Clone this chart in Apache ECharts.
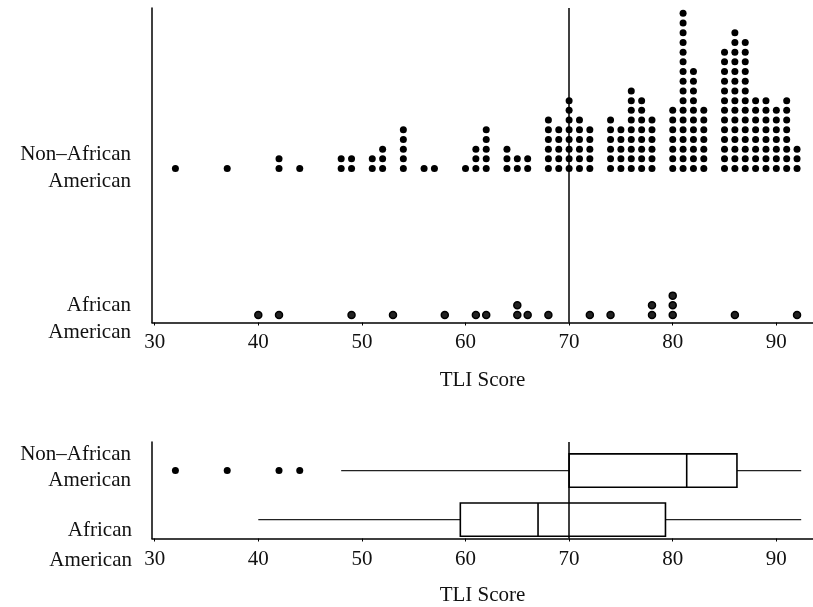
<!DOCTYPE html>
<html><head><meta charset="utf-8">
<script src="https://cdn.jsdelivr.net/npm/echarts@6/dist/echarts.min.js"></script>
<style>html,body{margin:0;background:#fff}#c{width:813px;height:607px}</style>
</head><body><div id="c"></div>
<script>
// ---- data ----
const groupLabels = ['Non–African\nAmerican', 'African\nAmerican'];
const axisTitle = 'TLI Score';
const xTicks = [30, 40, 50, 60, 70, 80, 90];
const cutoff = 70;
const nonAfricanScores = [32,37,42,44,48,49,51,52,54,56,57,60,61,62,64,65,66,68,69,70,71,72,74,75,76,77,78,80,81,82,83,85,86,87,88,89,90,91,92];
const nonAfricanCounts = [1,1,2,1,2,2,2,3,5,1,1,1,3,5,3,2,2,6,5,8,6,5,6,5,9,8,6,7,17,11,7,13,15,14,8,8,7,8,3];
const africanScores = [40,42,49,53,58,61,62,65,66,68,72,74,78,80,86,92];
const africanCounts = [1,1,1,1,1,1,1,2,1,1,1,1,2,3,1,1];
// five-number summaries: min, Q1, median, Q3, max
const boxNonAfrican = [48, 70, 81.35, 86.2, 92.4];
const boxAfrican = [40, 59.5, 67.0, 79.3, 92.4];
const outliersNonAfrican = [32, 37, 42, 44];

// ---- layout / style ----
const FONT = 'Liberation Serif';
const TXT = '#111';
const NA_BASE = 15.1, AA_BASE = 0;      // stacking baselines (dot units)
const BOX_NA = 2, BOX_AA = 1, BOX_H = 0.68;

function stack(scores, counts, base) {
  const pts = [];
  scores.forEach((s, i) => { for (let k = 0; k < counts[i]; k++) pts.push([s, base + k]); });
  return pts;
}
function xAxisCfg(gridIndex, gap, margin) {
  return {
    gridIndex, type: 'value', min: 29.74, max: 93.54,
    name: axisTitle, nameLocation: 'middle', nameGap: gap,
    nameTextStyle: { fontFamily: FONT, fontSize: 21, color: TXT },
    axisLine: { onZero: false, lineStyle: { color: '#000', width: 1.5 } },
    axisTick: { customValues: xTicks, length: 3, lineStyle: { color: '#000', width: 1 } },
    axisLabel: { customValues: xTicks, margin: margin, fontFamily: FONT, fontSize: 21, color: TXT },
    splitLine: { show: false }
  };
}
const vline = {
  silent: true, symbol: ['none', 'none'], label: { show: false },
  lineStyle: { color: '#000', width: 1.5, type: 'solid' },
  data: [{ xAxis: cutoff }], animation: false
};

const chart = echarts.init(document.getElementById('c'));
chart.setOption({
  animation: false,
  backgroundColor: '#fff',
  grid: [
    { left: 152, right: 0, top: 8, bottom: 284.5 },
    { left: 152, right: 0, top: 442, bottom: 68 }
  ],
  xAxis: [xAxisCfg(0, 47, 9), xAxisCfg(1, 46.5, 10)],
  yAxis: [
    {
      gridIndex: 0, type: 'value', min: -0.77, max: 31.65,
      axisLine: { show: true, onZero: false, lineStyle: { color: '#000', width: 1.5 } },
      axisTick: { show: false }, splitLine: { show: false },
      axisLabel: {
        customValues: [15.15, -0.36],
        formatter: v => (v > 5 ? groupLabels[0] : groupLabels[1]),
        fontFamily: FONT, fontSize: 21, lineHeight: 27, color: TXT, margin: 21, align: 'right'
      }
    },
    {
      gridIndex: 1, type: 'value', min: 0.615, max: 2.582,
      axisLine: { show: true, onZero: false, lineStyle: { color: '#000', width: 1.5 } },
      axisTick: { show: false }, splitLine: { show: false }, axisLabel: { show: false }
    }
  ],
  graphic: [
    { type: 'text', x: 131, y: 467.5, silent: true,
      style: { text: groupLabels[0], font: '21px "Liberation Serif"', fill: TXT, align: 'right', textAlign: 'right', verticalAlign: 'middle', textVerticalAlign: 'middle', lineHeight: 26 } },
    { type: 'text', x: 132, y: 545, silent: true,
      style: { text: groupLabels[1], font: '21px "Liberation Serif"', fill: TXT, align: 'right', textAlign: 'right', verticalAlign: 'middle', textVerticalAlign: 'middle', lineHeight: 30 } }
  ],
  series: [
    {
      type: 'scatter', xAxisIndex: 0, yAxisIndex: 0,
      data: stack(nonAfricanScores, nonAfricanCounts, NA_BASE),
      symbolSize: 7, itemStyle: { color: '#000', opacity: 1 },
      markLine: vline, silent: true
    },
    {
      type: 'scatter', xAxisIndex: 0, yAxisIndex: 0,
      data: stack(africanScores, africanCounts, AA_BASE),
      symbolSize: 7, itemStyle: { color: '#222', borderColor: '#000', borderWidth: 1.5, opacity: 1 },
      silent: true
    },
    {
      type: 'custom', xAxisIndex: 1, yAxisIndex: 1, silent: true,
      data: [[BOX_NA].concat(boxNonAfrican), [BOX_AA].concat(boxAfrican)],
      encode: { x: [1, 2, 3, 4, 5], y: 0 },
      renderItem(params, api) {
        const base = api.value(0);
        const v = [1, 2, 3, 4, 5].map(i => api.value(i));
        const c = val => api.coord([val, base]);
        const h = api.size([0, BOX_H])[1];
        const p = v.map(c);
        const y = p[0][1];
        const ws = { stroke: '#222', lineWidth: 1.3 };
        const bs = { stroke: '#000', lineWidth: 1.6 };
        return { type: 'group', children: [
          { type: 'line', shape: { x1: p[0][0], y1: y, x2: p[1][0], y2: y }, style: ws },
          { type: 'line', shape: { x1: p[3][0], y1: y, x2: p[4][0], y2: y }, style: ws },
          { type: 'rect', shape: { x: p[1][0], y: y - h / 2, width: p[3][0] - p[1][0], height: h }, style: Object.assign({ fill: '#fff' }, bs) },
          { type: 'line', shape: { x1: p[2][0], y1: y - h / 2, x2: p[2][0], y2: y + h / 2 }, style: bs }
        ] };
      }
    },
    {
      type: 'scatter', xAxisIndex: 1, yAxisIndex: 1, z: 5, silent: true,
      data: outliersNonAfrican.map(s => [s, BOX_NA]),
      symbolSize: 7, itemStyle: { color: '#000', opacity: 1 },
      markLine: vline
    }
  ]
});
</script></body></html>
